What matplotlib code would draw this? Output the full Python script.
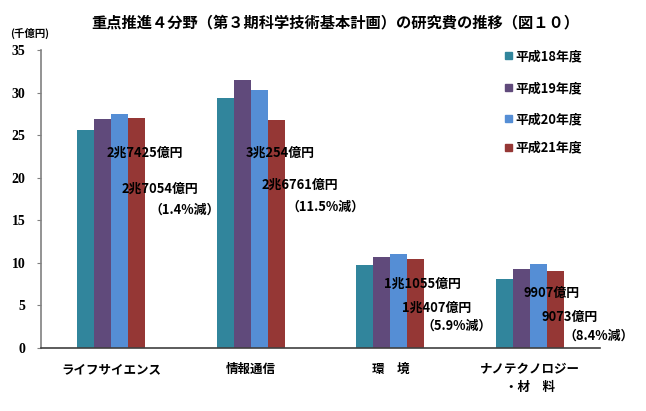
import matplotlib
matplotlib.use("Agg")
import matplotlib.pyplot as plt
import numpy as np

plt.rcParams['font.family'] = ['Noto Sans CJK JP', 'DejaVu Sans']

categories = ['ライフサイエンス', '情報通信', '環　境', 'ナノテクノロジー\n・材　料']
series_names = ['平成18年度', '平成19年度', '平成20年度', '平成21年度']
h18 = [25.6, 29.4, 9.75, 8.15]
h19 = [26.9, 31.5, 10.65, 9.25]
h20 = [27.425, 30.254, 11.055, 9.907]
h21 = [27.054, 26.761, 10.407, 9.073]
series = [h18, h19, h20, h21]
colors = ['#31859C', '#604A7B', '#558ED5', '#953735']
yticks = [0, 5, 10, 15, 20, 25, 30, 35]

notes = [
    ('2兆7425億円', '2兆7054億円', '（1.4%減）'),
    ('3兆254億円', '2兆6761億円', '（11.5%減）'),
    ('1兆1055億円', '1兆407億円', '（5.9%減）'),
    ('9907億円', '9073億円', '（8.4%減）'),
]

W, H = 646, 411
fig = plt.figure(figsize=(W / 100, H / 100), dpi=100)
ax = fig.add_axes([41 / W, 63 / H, (600 - 41) / W, (348 - 50) / H])

x = np.arange(len(categories))
bw = 0.122
for i, (vals, c, name) in enumerate(zip(series, colors, series_names)):
    ax.bar(x + (i - 1.5) * bw, vals, width=bw, color=c, label=name, linewidth=0)

ax.set_xlim(-0.5, 3.5)
ax.set_ylim(0, 35)
ax.set_yticks(yticks)
ax.set_yticklabels([str(v) for v in yticks], fontsize=10, fontweight='bold', family='Liberation Serif')
ax.set_xticks([])
for s in ['top', 'right']:
    ax.spines[s].set_visible(False)
ax.spines['left'].set_color('#808080')
ax.spines['bottom'].set_color('#404040')
ax.spines['left'].set_linewidth(1.2)
ax.spines['bottom'].set_linewidth(1.2)
ax.tick_params(axis='y', length=3, color='#808080', pad=8)

for xi, cat in zip(x, categories):
    ax.text(xi, -1.8, cat, ha='center', va='top', fontsize=9, fontweight='bold',
            linespacing=1.5, transform=ax.transData, clip_on=False)

# annotations (pixel positions of text left edge / center)
note_pos = [
    [(107, 153), (122, 189), (149, 210)],
    [(246, 153), (262, 185), (286, 207)],
    [(384, 284), (402, 308), (421, 326)],
    [(524, 293), (541, 317), (563, 336)],
]
for texts, poss in zip(notes, note_pos):
    for t, (px, py) in zip(texts, poss):
        fig.text(px / W, 1 - py / H, t, ha='left', va='center', fontsize=9.3,
                 fontweight='bold', color='black')

# legend
leg_y = [56, 88, 119, 147]
for name, c, py in zip(series_names, colors, leg_y):
    fig.patches.append(plt.Rectangle((505 / W, 1 - (py + 3.5) / H), 7 / W, 7 / H,
                                     transform=fig.transFigure, color=c, figure=fig))
    fig.text(515 / W, 1 - py / H, name, ha='left', va='center', fontsize=9.3, fontweight='bold')

fig.text(335 / W, 1 - 22 / H, '重点推進４分野（第３期科学技術基本計画）の研究費の推移（図１０）',
         ha='center', va='center', fontsize=11, fontweight='bold')
fig.text(10 / W, 1 - 33 / H, '(千億円)', ha='left', va='center', fontsize=7.5, fontweight='bold')

fig.savefig('out.png', dpi=100)
